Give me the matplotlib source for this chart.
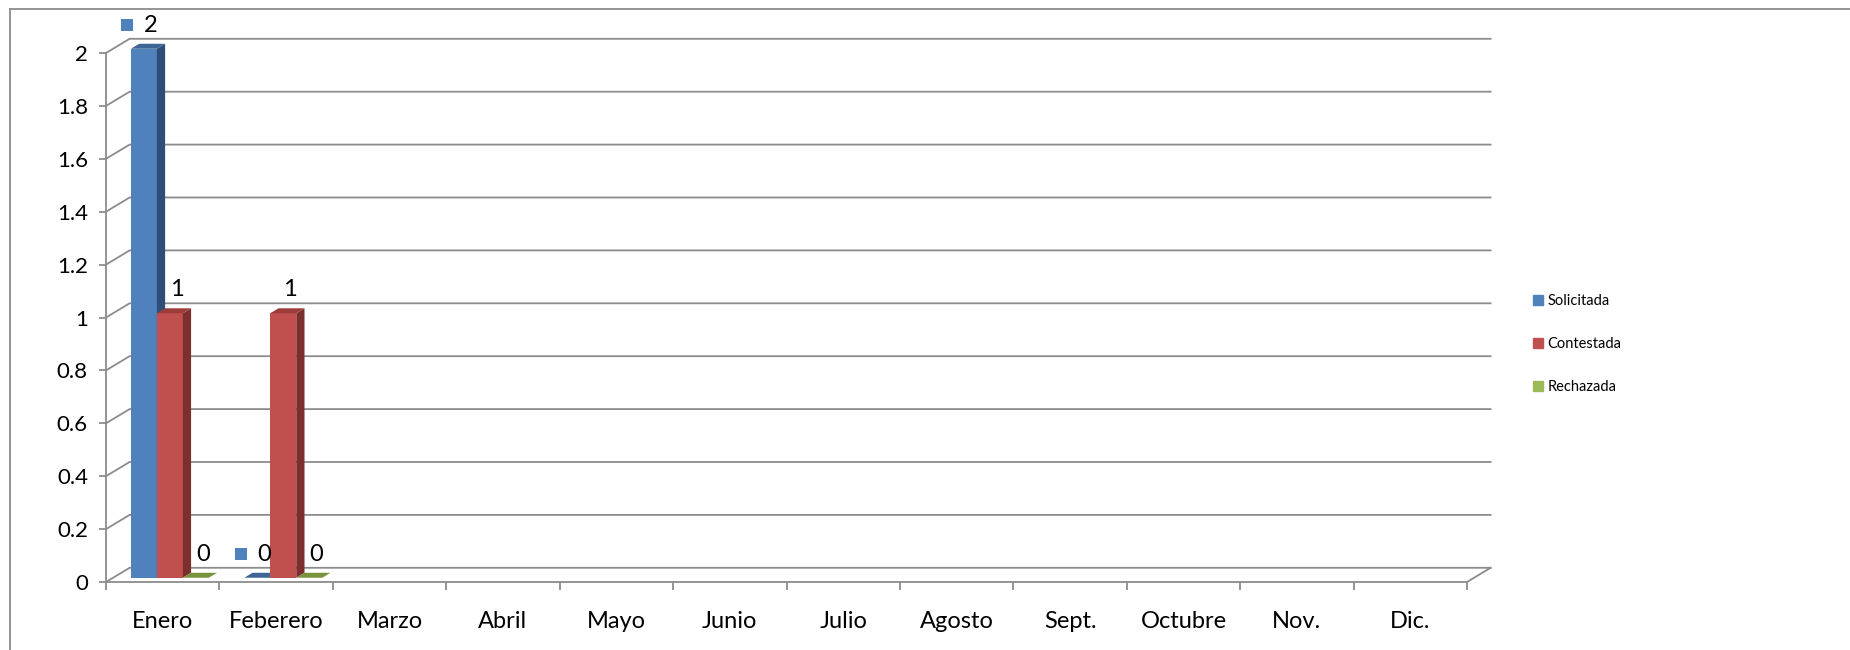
import matplotlib.pyplot as plt
import matplotlib.transforms as mtransforms
from matplotlib.patches import Polygon, Patch
from matplotlib.lines import Line2D
import numpy as np

plt.rcParams['font.family'] = ['Lato', 'DejaVu Sans']

meses = ['Enero', 'Feberero', 'Marzo', 'Abril', 'Mayo', 'Junio', 'Julio',
         'Agosto', 'Sept.', 'Octubre', 'Nov.', 'Dic.']
series = ['Solicitada', 'Contestada', 'Rechazada']
solicitada = [2, 0]
contestada = [1, 1]
rechazada = [0, 0]
yticks = [0, 0.2, 0.4, 0.6, 0.8, 1, 1.2, 1.4, 1.6, 1.8, 2]

colores = ['#4F81BD', '#C0504D', '#9BBB59']
lados = ['#2F4E77', '#7C2F2D', '#67803A']
techos = ['#3D6596', '#9C3D3B', '#77933C']
clave = [True, False, False]   # only the blue labels show their key
gris = '#8C8C8C'

fig = plt.figure(figsize=(18.5, 6.5), dpi=100)
ax = fig.add_axes([106 / 1850, 68 / 650, (1467 - 106) / 1850, (597 - 68) / 650])
ax.set_xlim(0, 12)
ax.set_ylim(0, 2)

# depth of the 3d walls in data units
ddx = 23.6 / 113.4
ddy = 14.2 / 264.5

# back wall grid + side wall diagonals
for v in yticks:
    ax.plot([0, ddx, 12 + ddx], [v, v + ddy, v + ddy], color=gris, lw=1.3,
            clip_on=False, zorder=1)
ax.plot([12, 12 + ddx], [0, ddy], color=gris, lw=1.3, clip_on=False, zorder=1)

for s in ['top', 'right']:
    ax.spines[s].set_visible(False)
for s in ['left', 'bottom']:
    ax.spines[s].set_color(gris)
    ax.spines[s].set_linewidth(1.3)

ax.set_yticks(yticks)
ax.set_yticklabels([f'{v:g}' for v in yticks])
ax.set_xticks(range(13))
ax.set_xticklabels([])
ax.set_xticks(np.arange(12) + 0.5, minor=True)
ax.set_xticklabels(meses, minor=True)
ax.tick_params(axis='x', which='major', length=6, width=1.3, color=gris)
ax.tick_params(axis='x', which='minor', length=0, pad=21, labelsize=17)
ax.tick_params(axis='y', length=5, width=1.3, color=gris, pad=8, labelsize=16)

# bars
w = 0.229
inicio = 0.157
bx, by = 0.3 * ddx, 0.3 * ddy
bdx, bdy = 0.35 * ddx, 0.35 * ddy

datos = [solicitada, contestada, rechazada]
for i, vals in enumerate(datos):
    x = np.arange(len(vals)) + inicio + i * w + bx
    ax.bar(x, vals, width=w, bottom=by, align='edge', color=colores[i],
           linewidth=0, zorder=3 + i, clip_on=False)
    for xl, v in zip(x, vals):
        xr = xl + w
        top = by + v
        ax.add_patch(Polygon([(xr, by), (xr + bdx, by + bdy), (xr + bdx, top + bdy), (xr, top)],
                             closed=True, fc=lados[i], lw=0, zorder=3 + i, clip_on=False))
        ax.add_patch(Polygon([(xl, top), (xr, top), (xr + bdx, top + bdy), (xl + bdx, top + bdy)],
                             closed=True, fc=techos[i], lw=0, zorder=3 + i, clip_on=False))
        ax.annotate(f'{v:g}', (xl + w / 2, top), xytext=(5, 17), textcoords='offset points',
                    ha='center', va='center', fontsize=17, zorder=10, annotation_clip=False)
        if clave[i]:
            desp = mtransforms.ScaledTranslation(-12 / 72, 17 / 72, fig.dpi_scale_trans)
            ax.plot(xl + w / 2, top, marker='s', ms=8.5, color=colores[i], mew=0,
                    transform=ax.transData + desp, clip_on=False, zorder=2)

# chart area border
fig.add_artist(Line2D([10 / 1850, 10 / 1850], [0, 1 - 9 / 650], transform=fig.transFigure,
                      color=gris, lw=1.3))
fig.add_artist(Line2D([10 / 1850, 1], [1 - 9 / 650, 1 - 9 / 650], transform=fig.transFigure,
                      color=gris, lw=1.3))

handles = [Patch(color=c) for c in colores]
fig.legend(handles, series, loc='center left', bbox_to_anchor=(1533 / 1850, 1 - 344 / 650),
           frameon=False, fontsize=10.5, handlelength=0.7, handleheight=0.7,
           handletextpad=0.3, labelspacing=2.0, borderaxespad=0, borderpad=0)

fig.savefig('out.png', dpi=100)
